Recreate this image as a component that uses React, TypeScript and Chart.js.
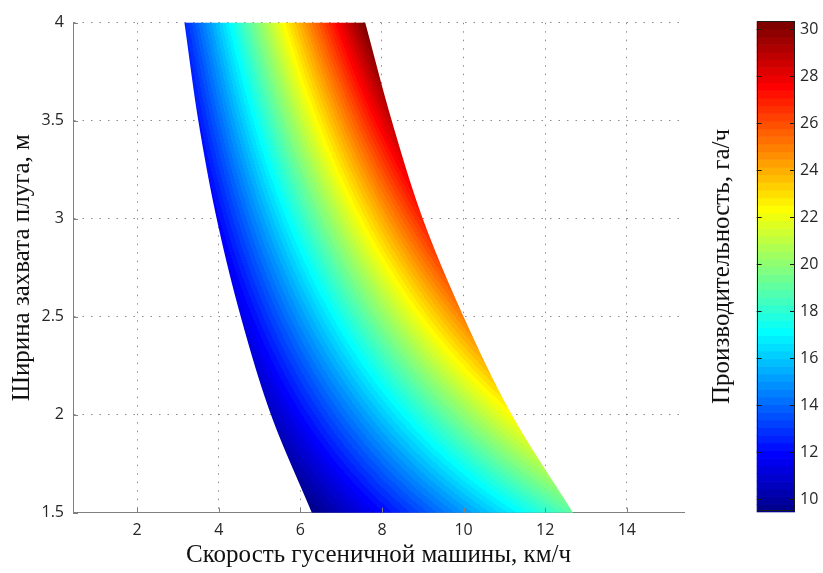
import React, { useEffect, useRef } from 'react';
import { Chart, registerables } from 'chart.js';

Chart.register(...registerables);

// Plough working width levels (m) at which the edges of the coloured region were read
const WIDTH_LEVELS = [1.5, 2, 2.5, 3, 3.5, 4];
// Lowest admissible speed (km/h) for each width: left edge of the region
const SPEED_MIN = [6.28, 5.28, 4.54, 3.95, 3.5, 3.16];
// Highest admissible speed (km/h) for each width: right edge of the region
const SPEED_MAX = [12.68, 11.18, 10.0, 9.0, 8.24, 7.59];

const X_TICKS = [2, 4, 6, 8, 10, 12, 14];
const Y_TICKS = [1.5, 2, 2.5, 3, 3.5, 4];
const CB_TICKS = [10, 12, 14, 16, 18, 20, 22, 24, 26, 28, 30];

const X_RANGE = [0.43, 15.4];
const Y_RANGE = [1.5, 4];
const CB_RANGE = [9.46, 30.34];
const N_COLORS = 64;

const X_TITLE = 'Скорость гусеничной машины, км/ч';
const Y_TITLE = 'Ширина захвата плуга, м';
const CB_TITLE = 'Производительность, га/ч';

const TICK_FONT = { family: '"Open Sans", "Liberation Sans", sans-serif', size: 16 };
const TITLE_FONT = { family: '"Liberation Serif", "DejaVu Serif", serif', size: 25, lineHeight: 1.2 };
const TICK_COLOR = '#262626';
const AXIS_COLOR = '#808080';

// MATLAB jet colormap, entry k = 1..n
function jet(k: number, n: number): [number, number, number] {
  const t = (4 * k) / n;
  const c = (v: number) => Math.max(0, Math.min(1, v));
  return [
    Math.round(c(1.5 - Math.abs(t - 3)) * 255),
    Math.round(c(1.5 - Math.abs(t - 2)) * 255),
    Math.round(c(1.5 - Math.abs(t - 1)) * 255),
  ];
}

function colorIndex(w: number): number {
  const k = Math.floor(((w - CB_RANGE[0]) / (CB_RANGE[1] - CB_RANGE[0])) * N_COLORS) + 1;
  return Math.max(1, Math.min(N_COLORS, k));
}

// monotone cubic Hermite through the read edge points
function makeEdge(xs: number[], ys: number[]) {
  const n = xs.length;
  const d: number[] = [];
  const m: number[] = [];
  for (let i = 0; i < n - 1; i++) d[i] = (ys[i + 1] - ys[i]) / (xs[i + 1] - xs[i]);
  m[0] = d[0];
  m[n - 1] = d[n - 2];
  for (let i = 1; i < n - 1; i++) m[i] = d[i - 1] * d[i] <= 0 ? 0 : (d[i - 1] + d[i]) / 2;
  return (x: number) => {
    let i = 0;
    while (i < n - 2 && x > xs[i + 1]) i++;
    const h = xs[i + 1] - xs[i];
    const t = Math.max(0, Math.min(1, (x - xs[i]) / h));
    const t2 = t * t;
    const t3 = t2 * t;
    return (
      (2 * t3 - 3 * t2 + 1) * ys[i] +
      (t3 - 2 * t2 + t) * h * m[i] +
      (-2 * t3 + 3 * t2) * ys[i + 1] +
      (t3 - t2) * h * m[i + 1]
    );
  };
}

const edgeMin = makeEdge(WIDTH_LEVELS, SPEED_MIN);
const edgeMax = makeEdge(WIDTH_LEVELS, SPEED_MAX);

const surfacePlugin = {
  id: 'surface',
  beforeDatasetsDraw(chart: any) {
    const { ctx, chartArea: a, scales } = chart;
    const xs = scales.x;
    const ys = scales.y;
    const left = Math.floor(a.left);
    const top = Math.floor(a.top);
    const w = Math.ceil(a.right) - left;
    const h = Math.ceil(a.bottom) - top;
    const off = document.createElement('canvas');
    off.width = w;
    off.height = h;
    const octx = off.getContext('2d')!;
    const img = octx.createImageData(w, h);
    const yTop = ys.getPixelForValue(WIDTH_LEVELS[WIDTH_LEVELS.length - 1]);
    const yBot = ys.getPixelForValue(WIDTH_LEVELS[0]);
    const palette: [number, number, number][] = [];
    for (let k = 1; k <= N_COLORS; k++) palette[k] = jet(k, N_COLORS);
    for (let r = 0; r < h; r++) {
      const py0 = top + r;
      const vcov = Math.max(0, Math.min(py0 + 1, yBot) - Math.max(py0, yTop));
      if (vcov <= 0) continue;
      let B = ys.getValueForPixel(py0 + 0.5);
      B = Math.max(WIDTH_LEVELS[0], Math.min(WIDTH_LEVELS[WIDTH_LEVELS.length - 1], B));
      const vL = edgeMin(B);
      const vR = edgeMax(B);
      const xL = xs.getPixelForValue(vL);
      const xR = xs.getPixelForValue(vR);
      for (let c = 0; c < w; c++) {
        const px0 = left + c;
        const hcov = Math.max(0, Math.min(1, Math.min(px0 + 1, xR) - Math.max(px0, xL)));
        const cov = hcov * vcov;
        if (cov <= 0) continue;
        let v = xs.getValueForPixel(px0 + 0.5);
        v = Math.max(vL, Math.min(vR, v));
        const col = palette[colorIndex(B * v)];
        const idx = (r * w + c) * 4;
        img.data[idx] = col[0];
        img.data[idx + 1] = col[1];
        img.data[idx + 2] = col[2];
        img.data[idx + 3] = Math.round(Math.min(1, cov) * 255);
      }
    }
    octx.putImageData(img, 0, 0);
    ctx.save();
    ctx.drawImage(off, left, top);
    ctx.restore();
  },
  afterDraw(chart: any) {
    const { ctx, chartArea: a, scales } = chart;
    ctx.save();
    ctx.strokeStyle = AXIS_COLOR;
    ctx.lineWidth = 1;
    ctx.beginPath();
    const len = 5;
    X_TICKS.forEach((t) => {
      const px = Math.round(scales.x.getPixelForValue(t)) + 0.5;
      ctx.moveTo(px, a.bottom);
      ctx.lineTo(px, a.bottom - len);
    });
    Y_TICKS.forEach((t) => {
      const py = Math.round(scales.y.getPixelForValue(t)) + 0.5;
      ctx.moveTo(a.left, py);
      ctx.lineTo(a.left + len, py);
    });
    ctx.stroke();
    ctx.restore();
  },
};

const colorbarPlugin = {
  id: 'colorbar',
  beforeDatasetsDraw(chart: any) {
    const { ctx, chartArea: a, scales } = chart;
    const s = scales.y;
    const step = (CB_RANGE[1] - CB_RANGE[0]) / N_COLORS;
    ctx.save();
    for (let k = 1; k <= N_COLORS; k++) {
      const y0 = s.getPixelForValue(CB_RANGE[0] + (k - 1) * step);
      const y1 = s.getPixelForValue(CB_RANGE[0] + k * step);
      const col = jet(k, N_COLORS);
      ctx.fillStyle = `rgb(${col[0]},${col[1]},${col[2]})`;
      ctx.fillRect(a.left, y1, a.right - a.left, y0 - y1 + 0.6);
    }
    ctx.restore();
  },
  afterDraw(chart: any) {
    const { ctx, chartArea: a, scales } = chart;
    const s = scales.y;
    ctx.save();
    ctx.strokeStyle = '#1a1a1a';
    ctx.lineWidth = 1;
    ctx.strokeRect(Math.round(a.left) + 0.5, Math.round(a.top) + 0.5, Math.round(a.right - a.left) - 1, Math.round(a.bottom - a.top) - 1);
    ctx.beginPath();
    CB_TICKS.forEach((t) => {
      const py = Math.round(s.getPixelForValue(t)) + 0.5;
      ctx.moveTo(a.left, py);
      ctx.lineTo(a.left + 5, py);
      ctx.moveTo(a.right, py);
      ctx.lineTo(a.right - 5, py);
    });
    ctx.stroke();
    ctx.restore();
  },
};

export default function App() {
  const mainRef = useRef<HTMLCanvasElement | null>(null);
  const cbRef = useRef<HTMLCanvasElement | null>(null);

  useEffect(() => {
    const main = new Chart(mainRef.current!, {
      type: 'scatter',
      data: { datasets: [] },
      plugins: [surfacePlugin],
      options: {
        animation: false,
        responsive: false,
        devicePixelRatio: 1,
        layout: { padding: { left: 0, top: 22.7, right: 139, bottom: 0 } },
        plugins: { legend: { display: false }, tooltip: { enabled: false } },
        scales: {
          x: {
            type: 'linear',
            min: X_RANGE[0],
            max: X_RANGE[1],
            afterBuildTicks: (s: any) => {
              s.ticks = X_TICKS.map((v) => ({ value: v }));
            },
            afterFit: (s: any) => {
              s.height = 60.3;
            },
            ticks: { font: TICK_FONT, color: TICK_COLOR, padding: 8, maxRotation: 0, callback: (v: any) => String(v) },
            grid: { color: 'rgba(120,120,120,0.85)', lineWidth: 1, drawTicks: false },
            border: { display: true, color: AXIS_COLOR, width: 1, dash: [1.5, 7] },
            title: { display: true, text: X_TITLE, font: TITLE_FONT, color: '#111', padding: { top: 0, bottom: 3 } },
          },
          y: {
            type: 'linear',
            min: Y_RANGE[0],
            max: Y_RANGE[1],
            afterBuildTicks: (s: any) => {
              s.ticks = Y_TICKS.map((v) => ({ value: v }));
            },
            afterFit: (s: any) => {
              s.width = 73;
            },
            ticks: { font: TICK_FONT, color: TICK_COLOR, padding: 9, callback: (v: any) => String(v) },
            grid: { color: 'rgba(120,120,120,0.85)', lineWidth: 1, drawTicks: false },
            border: { display: true, color: AXIS_COLOR, width: 1, dash: [1.5, 7] },
            title: { display: true, text: Y_TITLE, font: TITLE_FONT, color: '#111', padding: { top: 7, bottom: 0 } },
          },
        },
      },
    } as any);

    const cb = new Chart(cbRef.current!, {
      type: 'scatter',
      data: { datasets: [] },
      plugins: [colorbarPlugin],
      options: {
        animation: false,
        responsive: false,
        devicePixelRatio: 1,
        layout: { padding: { left: 0, top: 21.3, right: 0, bottom: 61.3 } },
        plugins: { legend: { display: false }, tooltip: { enabled: false } },
        scales: {
          x: { type: 'linear', min: 0, max: 1, display: false },
          yl: {
            type: 'linear',
            position: 'left',
            min: CB_RANGE[0],
            max: CB_RANGE[1],
            afterFit: (s: any) => {
              s.width = 66.7;
            },
            ticks: { display: false },
            grid: { display: false, drawTicks: false },
            border: { display: false },
            title: { display: true, text: CB_TITLE, font: TITLE_FONT, color: '#111', padding: { top: 17, bottom: 0 } },
          },
          y: {
            type: 'linear',
            position: 'right',
            min: CB_RANGE[0],
            max: CB_RANGE[1],
            afterBuildTicks: (s: any) => {
              s.ticks = CB_TICKS.map((v) => ({ value: v }));
            },
            afterFit: (s: any) => {
              s.width = 28;
            },
            ticks: { font: TICK_FONT, color: TICK_COLOR, padding: 5, callback: (v: any) => String(v) },
            grid: { display: false, drawTicks: false },
            border: { display: false },
          },
        },
      },
    } as any);

    return () => {
      main.destroy();
      cb.destroy();
    };
  }, []);

  return (
    <div style={{ position: 'absolute', left: 0, top: 0, width: 823, height: 573, background: '#fff', overflow: 'hidden' }}>
      <canvas ref={mainRef} width={823} height={573} style={{ position: 'absolute', left: 0, top: 0, display: 'block' }} />
      <canvas ref={cbRef} width={133} height={573} style={{ position: 'absolute', left: 690, top: 0, display: 'block' }} />
    </div>
  );
}
